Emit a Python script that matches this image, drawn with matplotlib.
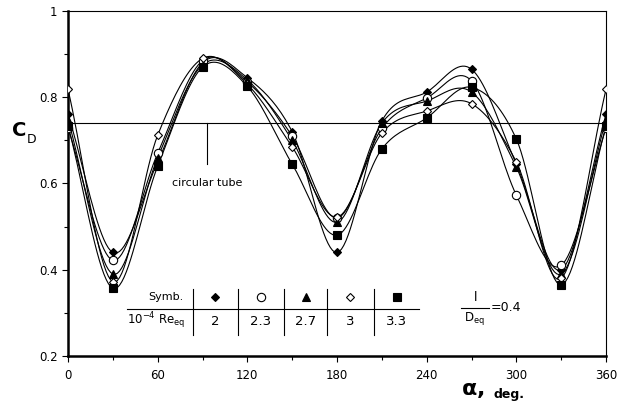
import numpy as np
import matplotlib.pyplot as plt

alpha = [0, 30, 60, 90, 120, 150, 180, 210, 240, 270, 300, 330, 360]

# 10^-4 Re_eq = 2, 2.3, 2.7, 3, 3.3
re_labels = ["2", "2.3", "2.7", "3", "3.3"]
cd_2 = [0.760, 0.440, 0.650, 0.880, 0.845, 0.720, 0.440, 0.745, 0.812, 0.865, 0.645, 0.400, 0.760]
cd_23 = [0.728, 0.422, 0.670, 0.885, 0.835, 0.710, 0.520, 0.728, 0.798, 0.838, 0.573, 0.410, 0.728]
cd_27 = [0.748, 0.390, 0.660, 0.875, 0.840, 0.700, 0.510, 0.740, 0.791, 0.812, 0.638, 0.390, 0.748]
cd_3 = [0.818, 0.372, 0.712, 0.890, 0.830, 0.685, 0.522, 0.717, 0.768, 0.785, 0.650, 0.380, 0.818]
cd_33 = [0.733, 0.357, 0.640, 0.870, 0.825, 0.645, 0.480, 0.680, 0.752, 0.823, 0.703, 0.365, 0.733]

series = [cd_2, cd_23, cd_27, cd_3, cd_33]
markers = [("D", "black", 4.5), ("o", "white", 6), ("^", "black", 6), ("D", "white", 4), ("s", "black", 5.5)]

cd_circular = 0.74


def smooth(x, y, n=20):
    # Catmull-Rom spline through the points (like Excel smoothed line)
    x = np.asarray(x, float)
    y = np.asarray(y, float)
    px = np.concatenate([[2 * x[0] - x[1]], x, [2 * x[-1] - x[-2]]])
    py = np.concatenate([[2 * y[0] - y[1]], y, [2 * y[-1] - y[-2]]])
    xs, ys = [], []
    t = np.linspace(0, 1, n, endpoint=False)
    for i in range(1, len(px) - 2):
        for p, out in ((px, xs), (py, ys)):
            p0, p1, p2, p3 = p[i - 1], p[i], p[i + 1], p[i + 2]
            out.extend(0.5 * ((2 * p1) + (-p0 + p2) * t
                              + (2 * p0 - 5 * p1 + 4 * p2 - p3) * t ** 2
                              + (-p0 + 3 * p1 - 3 * p2 + p3) * t ** 3))
    xs.append(x[-1])
    ys.append(y[-1])
    return np.array(xs), np.array(ys)


fig = plt.figure(figsize=(6.27, 4.07), dpi=100)
ax = fig.add_axes([0.1085, 0.1253, 0.858, 0.8477])

for vals, (m, fc, ms) in zip(series, markers):
    sx, sy = smooth(alpha, vals)
    ax.plot(sx, sy, color="black", lw=0.8, zorder=2)
    ax.plot(alpha, vals, ls="none", marker=m, mfc=fc, mec="black", mew=0.8, ms=ms, zorder=3)

# circular tube reference
ax.axhline(cd_circular, color="black", lw=0.8)
ax.plot([93, 93], [cd_circular, 0.645], color="black", lw=0.8)
ax.text(93, 0.60, "circular tube", ha="center", va="center", fontsize=8)

ax.set_xlim(0, 360)
ax.set_ylim(0.2, 1.0)
ax.set_xticks(range(0, 361, 60))
ax.set_xticks(range(30, 360, 60), minor=True)
ax.set_yticks([0.2, 0.4, 0.6, 0.8, 1.0])
ax.set_yticklabels(["0.2", "0.4", "0.6", "0.8", "1"])
ax.set_yticks([0.3, 0.5, 0.7, 0.9], minor=True)
ax.tick_params(which="both", direction="out", labelsize=8.5, width=0.8)
ax.tick_params(which="major", length=4)
ax.tick_params(which="minor", length=3)
ax.tick_params(axis="x", pad=5)
for s in ("left", "bottom"):
    ax.spines[s].set_linewidth(1.8)
for s in ("top", "right"):
    ax.spines[s].set_linewidth(0.8)

ytr = ax.get_yaxis_transform()
ax.text(-0.09, 0.722, "C", transform=ytr, fontsize=14, fontweight="bold",
        ha="center", va="center")
ax.text(-0.068, 0.702, "D", transform=ytr, fontsize=9, ha="center", va="center")
ax.text(271, 0.121, r"$\mathbf{\alpha}$,", fontsize=16, ha="center", va="center",
        fontweight="bold")
ax.text(295, 0.111, "deg.", fontsize=9, ha="center", va="center", fontweight="bold")

# symbol table
ax.plot([39.5, 235], [0.309, 0.309], color="black", lw=0.8)
for xv in [83.7, 113.8, 144.6, 173.4, 204.8]:
    ax.plot([xv, xv], [0.355, 0.248], color="black", lw=0.8)
ax.text(77, 0.336, "Symb.", ha="right", va="center", fontsize=8)
ax.text(39.5, 0.281, r"10$^{-4}$ Re$_{\rm eq}$", ha="left", va="center", fontsize=8.5)
cells = [98.5, 129, 159, 189, 220]
for cx, (m, fc, ms), lab in zip(cells, markers, re_labels):
    ax.plot([cx], [0.336], ls="none", marker=m, mfc=fc, mec="black", mew=0.8, ms=ms)
    ax.text(cx, 0.281, lab, ha="center", va="center", fontsize=9.5)

# l / D_eq = 0.4
ax.text(273, 0.335, "l", ha="center", va="center", fontsize=9)
ax.plot([263, 282], [0.312, 0.312], color="black", lw=0.8)
ax.text(272, 0.288, r"D$_{\rm eq}$", ha="center", va="center", fontsize=8.5)
ax.text(283, 0.312, "=0.4", ha="left", va="center", fontsize=9)

fig.savefig("out.png", dpi=100)
